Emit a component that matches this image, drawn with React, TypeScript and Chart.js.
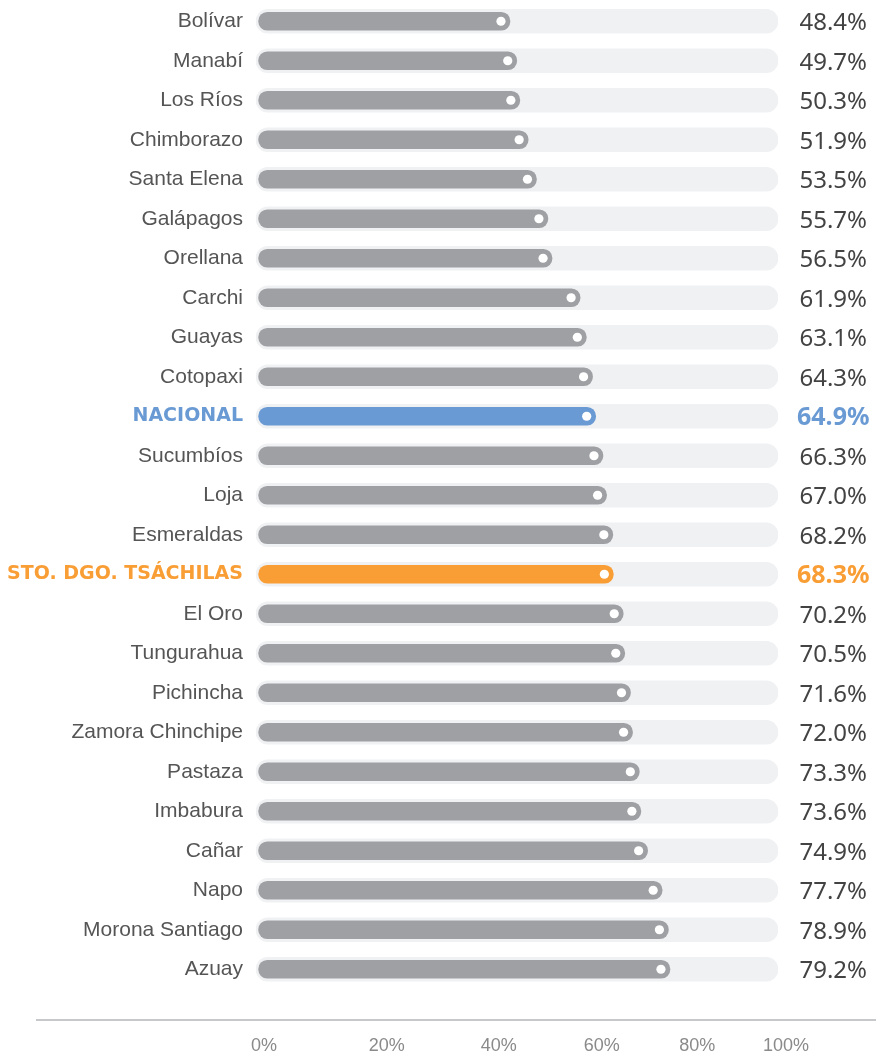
import { useEffect, useRef } from 'react';
import { Chart, registerables } from 'chart.js';

Chart.register(...registerables);

const CATEGORIES = [
  'Bolívar', 'Manabí', 'Los Ríos', 'Chimborazo', 'Santa Elena', 'Galápagos', 'Orellana',
  'Carchi', 'Guayas', 'Cotopaxi', 'NACIONAL', 'Sucumbíos', 'Loja', 'Esmeraldas',
  'STO. DGO. TSÁCHILAS', 'El Oro', 'Tungurahua', 'Pichincha', 'Zamora Chinchipe',
  'Pastaza', 'Imbabura', 'Cañar', 'Napo', 'Morona Santiago', 'Azuay',
];
const VALUES = [
  48.4, 49.7, 50.3, 51.9, 53.5, 55.7, 56.5, 61.9, 63.1, 64.3, 64.9, 66.3, 67.0, 68.2,
  68.3, 70.2, 70.5, 71.6, 72.0, 73.3, 73.6, 74.9, 77.7, 78.9, 79.2,
];
const VALUE_LABELS = VALUES.map((v) => v.toFixed(1) + '%');
const HIGHLIGHTS: Record<string, string> = {
  'NACIONAL': '#6a9ad3',
  'STO. DGO. TSÁCHILAS': '#f99d35',
};
const TRACK_RANGE = [-0.5, 100];
const AXIS_TICKS = [0, 20, 40, 60, 80, 100];
const AXIS_OFFSET = 200;

const BAR_GRAY = '#9ea0a3';
const TRACK_COLOR = '#f0f1f3';
const LABEL_COLOR = '#555555';
const VALUE_COLOR = '#434343';

const isHi = (i: number) => HIGHLIGHTS[CATEGORIES[i]] !== undefined;

export default function App() {
  const ref = useRef<HTMLCanvasElement | null>(null);

  useEffect(() => {
    document.body.style.margin = '0';
    const canvas = ref.current;
    if (!canvas) return;

    const dotPlugin = {
      id: 'dots',
      afterDatasetsDraw(chart: any) {
        const ctx = chart.ctx;
        const meta = chart.getDatasetMeta(0);
        ctx.save();
        ctx.fillStyle = '#ffffff';
        meta.data.forEach((el: any) => {
          const p = el.getProps(['x', 'y', 'height'], true);
          ctx.beginPath();
          ctx.arc(p.x - p.height / 2, p.y, 4.6, 0, Math.PI * 2);
          ctx.fill();
        });
        ctx.restore();
      },
    };

    const linePlugin = {
      id: 'baseLine',
      afterDraw(chart: any) {
        const ctx = chart.ctx;
        ctx.save();
        ctx.fillStyle = '#c6c8ca';
        ctx.fillRect(36, chart.chartArea.bottom + 30, chart.width - 36, 2);
        ctx.restore();
      },
    };

    const noPad = (axis: any) => {
      axis.paddingTop = 0;
      axis.paddingBottom = 0;
      axis.paddingLeft = 0;
      axis.paddingRight = 0;
    };

    const chart = new Chart(canvas, {
      type: 'bar',
      data: {
        labels: CATEGORIES,
        datasets: [
          {
            data: VALUES,
            backgroundColor: CATEGORIES.map((c) => HIGHLIGHTS[c] ?? BAR_GRAY),
            barThickness: 18,
            borderRadius: 9,
            borderSkipped: false,
            grouped: false,
            xAxisID: 'x',
            yAxisID: 'y',
          },
          {
            data: CATEGORIES.map(() => TRACK_RANGE),
            backgroundColor: TRACK_COLOR,
            barThickness: 24,
            borderRadius: 12,
            borderSkipped: false,
            grouped: false,
            xAxisID: 'x',
            yAxisID: 'y',
          },
        ] as any,
      },
      options: {
        indexAxis: 'y',
        animation: false,
        responsive: false,
        maintainAspectRatio: false,
        layout: { padding: { top: 1.5, bottom: 0, left: 0, right: 0 } },
        plugins: { legend: { display: false }, tooltip: { enabled: false } },
        scales: {
          x: {
            type: 'linear',
            display: false,
            min: TRACK_RANGE[0],
            max: TRACK_RANGE[1],
          },
          x2: {
            type: 'logarithmic',
            position: 'bottom',
            min: AXIS_TICKS[0] + AXIS_OFFSET,
            max: AXIS_TICKS[AXIS_TICKS.length - 1] + AXIS_OFFSET,
            grid: { display: false, drawTicks: false },
            border: { display: false },
            afterBuildTicks: (axis: any) => {
              axis.ticks = AXIS_TICKS.map((v) => ({ value: v + AXIS_OFFSET }));
            },
            afterFit: (axis: any) => {
              axis.height = 74;
              noPad(axis);
            },
            ticks: {
              autoSkip: false,
              maxRotation: 0,
              padding: 46,
              labelOffset: 8,
              color: '#8a8a8a',
              font: { family: "'Liberation Sans Narrow', 'Liberation Sans', sans-serif", size: 18 },
              callback: (value: any) => Math.round(Number(value) - AXIS_OFFSET) + '%',
            },
          },
          y: {
            type: 'category',
            position: 'left',
            grid: { display: false, drawTicks: false },
            border: { display: false },
            afterFit: (axis: any) => {
              axis.width = 256;
              noPad(axis);
            },
            ticks: {
              autoSkip: false,
              padding: 13,
              color: (ctx: any) => HIGHLIGHTS[CATEGORIES[ctx.index]] ?? LABEL_COLOR,
              font: (ctx: any) =>
                isHi(ctx.index)
                  ? { family: "'DejaVu Sans', sans-serif", size: 19, weight: 'bold' }
                  : { family: "'Liberation Sans', Arial, sans-serif", size: 21, weight: 'normal' },
            },
          },
          y2: {
            type: 'category',
            position: 'right',
            labels: VALUE_LABELS,
            offset: true,
            grid: { display: false, drawTicks: false },
            border: { display: false },
            afterFit: (axis: any) => {
              axis.width = 98;
              noPad(axis);
            },
            ticks: {
              autoSkip: false,
              crossAlign: 'center',
              padding: 19,
              labelOffset: 2,
              color: (ctx: any) => HIGHLIGHTS[CATEGORIES[ctx.index]] ?? VALUE_COLOR,
              font: (ctx: any) =>
                isHi(ctx.index)
                  ? { family: "'Noto Sans', sans-serif", size: 25, weight: 'bold' }
                  : { family: "'Noto Sans', sans-serif", size: 24, weight: 'normal' },
            },
          },
        },
      } as any,
      plugins: [dotPlugin, linePlugin],
    });

    return () => chart.destroy();
  }, []);

  return (
    <div style={{ width: 876, height: 1063, position: 'relative' }}>
      <canvas ref={ref} width={876} height={1063} style={{ display: 'block' }} />
    </div>
  );
}
